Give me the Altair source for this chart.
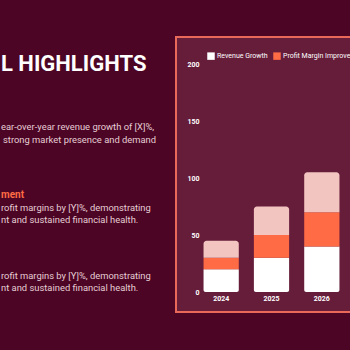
import altair as alt
import pandas as pd

years = ["2024", "2025", "2026"]
series = ["Revenue Growth", "Profit Margin Improvement", "Market Expansion"]
revenue = [20, 30, 40]
profit = [10, 20, 30]
market = [15, 25, 35]
colors = ["#ffffff", "#ff6b45", "#f3c5c0"]
y_ticks = [0, 50, 100, 150, 200]

rows = []
for i, y in enumerate(years):
    for k, (name, vals) in enumerate(zip(series, [revenue, profit, market])):
        rows.append({"year": y, "series": name, "value": vals[i], "order": k})
df = pd.DataFrame(rows)

OX, OY = 200, 64  # plot origin in page coords
W, H = 150, 228
BG = "#4c0524"
PANEL = "#661d3a"
BORDER = "#e8685a"
TXT = "#e6cdd5"
one = pd.DataFrame({"a": [0]})


def ax(v):
    return alt.value(v - OX)


def ay(v):
    return alt.value(v - OY)


panel = alt.Chart(one).mark_rect(fill=PANEL, stroke=BORDER, strokeWidth=2).encode(
    x=ax(176), x2=ax(420), y=ay(37), y2=ay(312)
)

color_scale = alt.Scale(domain=series, range=colors)
xenc = alt.X(
    "year:N",
    sort=years,
    scale=alt.Scale(range=[-4, 147], paddingInner=0.3, paddingOuter=0.15),
    axis=alt.Axis(title=None, labelAngle=0, domain=False, ticks=False, labelPadding=2, zindex=2,
                  labelColor="#ffffff", labelFontSize=7, labelFont="Roboto", labelFontWeight="bold"),
)
yenc = alt.Y(
    "y1:Q",
    scale=alt.Scale(domain=[0, 200], nice=False),
    axis=alt.Axis(title=None, values=y_ticks, domain=False, ticks=False, grid=False, labelPadding=1,
                  zindex=2, labelColor="#ffffff", labelFontSize=7, labelFont="Roboto",
                  labelFontWeight="bold"),
)

base = alt.Chart(df).transform_stack(
    stack="value", groupby=["year"], as_=["y0", "y1"], sort=[alt.SortField("order", order="ascending")]
)
cenc = alt.Color(
    "series:N",
    scale=color_scale,
    legend=alt.Legend(title=None, orient="none", legendX=7, legendY=-12, direction="horizontal",
                      columns=3, symbolType="square", symbolSize=56, symbolStrokeWidth=0,
                      labelColor="#ffffff", labelFontSize=7, labelFont="Roboto", labelOffset=2,
                      columnPadding=5, symbolOpacity=1, zindex=2),
)

radii = [
    dict(cornerRadiusBottomLeft=2, cornerRadiusBottomRight=2),
    dict(),
    dict(cornerRadiusTopLeft=3, cornerRadiusTopRight=3),
]
bars = [
    base.transform_filter(alt.datum.series == s).mark_bar(**r).encode(
        x=xenc, y=yenc, y2="y0:Q", color=cenc
    )
    for s, r in zip(series, radii)
]


def txt(s, x, y, size=9.4, color=TXT, weight="normal", font="Roboto", align="left",
        baseline="middle"):
    return alt.Chart(one).mark_text(
        text=s, align=align, baseline=baseline, fontSize=size, color=color, fontWeight=weight, font=font
    ).encode(x=ax(x), y=ay(y))


texts = [
    txt("L HIGHLIGHTS", 1, 71, size=22, color="#ffffff", weight="bold", baseline="alphabetic"),
    txt("ear-over-year revenue growth of [X]%,", 1, 127),
    txt("strong market presence and demand", 3, 140),
    txt("ment", 1, 195, size=10, color="#ff6b45", weight="bold"),
    txt("rofit margins by [Y]%, demonstrating", 1, 208),
    txt("nt and sustained financial health.", 1, 220),
    txt("rofit margins by [Y]%, demonstrating", 1, 276),
    txt("nt and sustained financial health.", 1, 288),
]

chart = alt.layer(panel, *bars, *texts).properties(
    width=W, height=H,
    padding={"left": OX, "top": OY, "right": 0, "bottom": 350 - OY - H},
    autosize=alt.AutoSizeParams(type="none"),
    background=BG,
).configure_view(strokeWidth=0)

chart.save("out.html", embed_options={"renderer": "svg", "actions": False})
